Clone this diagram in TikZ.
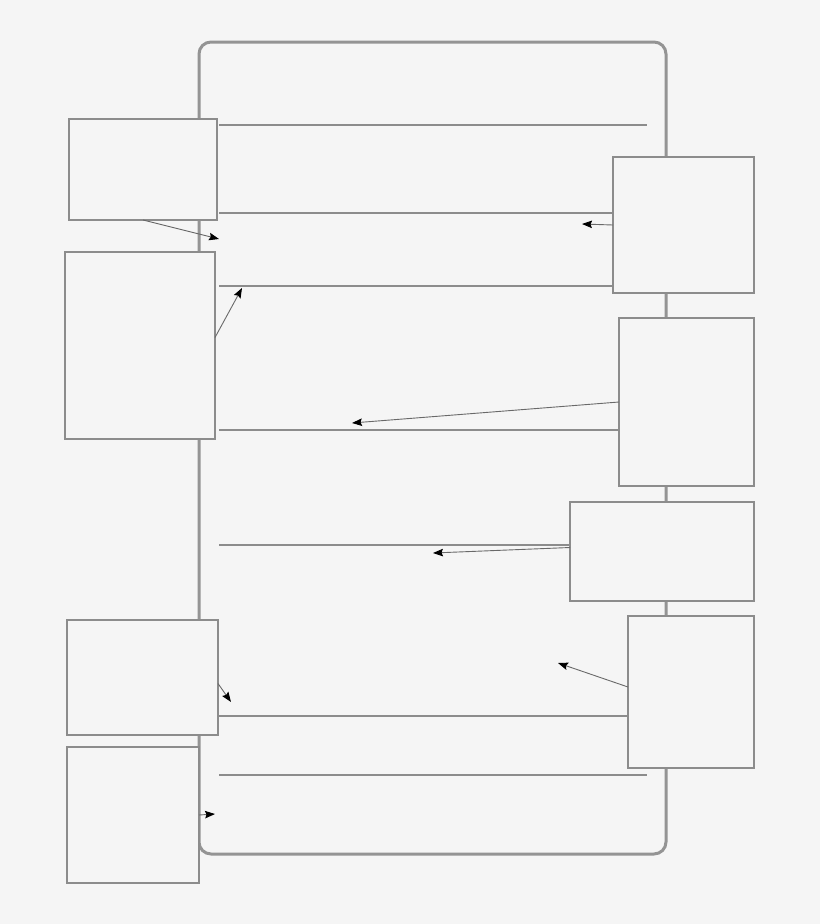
\documentclass[tikz,border=0pt]{standalone}
\usetikzlibrary{arrows.meta}
\definecolor{paper}{RGB}{245,245,245}
\definecolor{rim}{RGB}{148,148,148}
\definecolor{edge}{RGB}{140,140,140}
\definecolor{shaft}{RGB}{105,105,105}

\begin{document}
\begin{tikzpicture}[x=1pt,y=-1pt,
  panel/.style={draw=edge,line width=1.1pt,fill=paper,anchor=north west,inner sep=0pt,outer sep=0pt},
  rule/.style={draw=edge,line width=1.3pt},
  pointer/.style={draw=shaft,line width=0.9pt,-{Stealth[length=10pt,width=7.5pt,inset=1.5pt,black]}}]
  \fill[paper] (0,0) rectangle (820,924);
  \useasboundingbox (0,0) rectangle (820,924);
  \draw[rim,line width=3pt,rounded corners=12pt] (199,42) rectangle (666,854);
  \foreach \name/\x/\y/\w/\h in {l1/69/119/148/101, l2/65/252/150/187,
      l3/67/620/151/115, l4/67/747/132/136, r1/613/157/141/136,
      r2/619/318/135/168, r3/570/502/184/99, r4/628/616/126/152}
    \node[panel,minimum width=\w pt,minimum height=\h pt] (\name) at (\x,\y) {};
  \foreach \y/\xe in {125/647, 213/613, 286/613, 430/619, 545/570, 716/628, 775/647}
    \draw[rule] (219,\y) -- (\xe,\y);
  \coordinate (t1) at (219,239);
  \coordinate (t2) at (242,288);
  \coordinate (t3) at (582,224);
  \coordinate (t4) at (352,423);
  \coordinate (t5) at (433,553);
  \coordinate (t6) at (558,663);
  \coordinate (t7) at (231,702);
  \coordinate (t8) at (215,814);
  \draw[pointer] (l1.south) -- (t1);
  \draw[pointer] ([yshift=8pt]l2.east) -- (t2);
  \draw[pointer] (r1.west) -- (t3);
  \draw[pointer] (r2.west) -- (t4);
  \draw[pointer] ([yshift=4pt]r3.west) -- (t5);
  \draw[pointer] ([yshift=5pt]r4.west) -- (t6);
  \draw[pointer] ([yshift=-6pt]l3.east) -- (t7);
  \draw[pointer] (l4.east) -- (t8);
\end{tikzpicture}
\end{document}
